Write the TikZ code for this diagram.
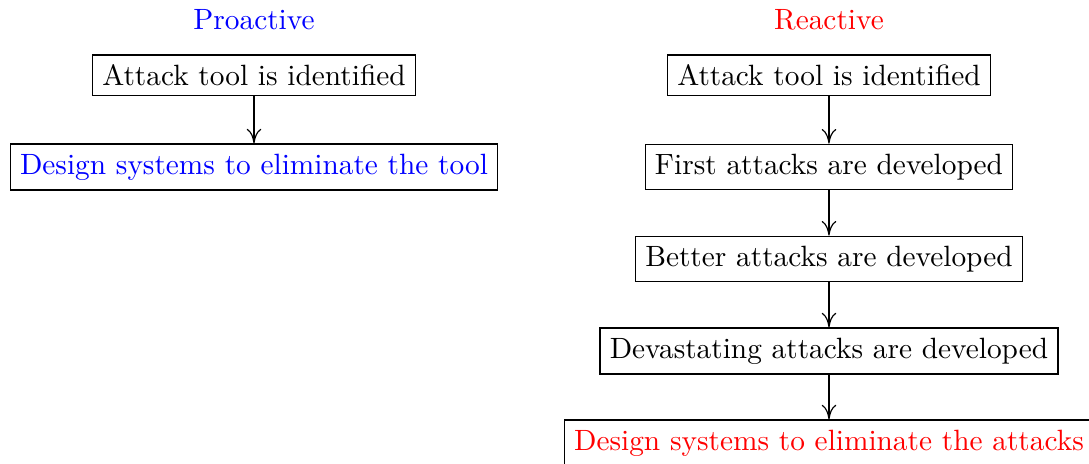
\documentclass[tikz,border=0pt]{standalone}
\usepackage{tikz}
\usetikzlibrary{positioning,arrows.meta}
\tikzset{stepbox/.style={draw, rectangle}, flow/.style={-{Computer Modern Rightarrow[length=5pt, width=5pt]}}}

\begin{document}
\begin{tikzpicture}
			%%%%% START %%%%%
			
			\useasboundingbox (0, 0) rectangle (13.046, -5.547);
			
			\node[color=blue] (protitle) at (3.043, -0.240) {Proactive};
			\node[stepbox] (protool) at (3.043, -0.904) {Attack tool is identified};
			\node[stepbox, text=blue] (prodesign) at (3.043, -2.001) {Design systems to eliminate the tool};
			\draw[flow] (protool) -- (prodesign);
			
			\node[color=red] (retitle) at (9.931, -0.240) {Reactive};
			\node[stepbox] (retool) at (9.931, -0.904) {Attack tool is identified};
			\node[stepbox] (refirst) at (9.931, -2.001) {First attacks are developed};
			\node[stepbox] (rebetter) at (9.931, -3.103) {Better attacks are developed};
			\node[stepbox] (redev) at (9.931, -4.205) {Devastating attacks are developed};
			\node[stepbox, text=red] (redesign) at (9.931, -5.307) {Design systems to eliminate the attacks};
			
			\draw[flow] (retool) -- (refirst);
			\draw[flow] (refirst) -- (rebetter);
			\draw[flow] (rebetter) -- (redev);
			\draw[flow] (redev) -- (redesign);
			
			%%%%% END %%%%%
		\end{tikzpicture}
\end{document}
